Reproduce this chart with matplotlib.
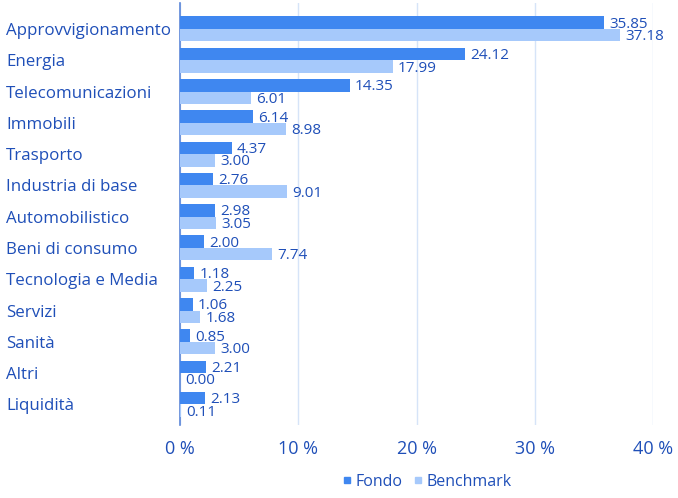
import numpy as np
import matplotlib.pyplot as plt

categories = ["Approvvigionamento", "Energia", "Telecomunicazioni", "Immobili", "Trasporto",
              "Industria di base", "Automobilistico", "Beni di consumo", "Tecnologia e Media",
              "Servizi", "Sanità", "Altri", "Liquidità"]
fondo = [35.85, 24.12, 14.35, 6.14, 4.37, 2.76, 2.98, 2.00, 1.18, 1.06, 0.85, 2.21, 2.13]
benchmark = [37.18, 17.99, 6.01, 8.98, 3.00, 9.01, 3.05, 7.74, 2.25, 1.68, 3.00, 0.00, 0.11]
xticks = [0, 10, 20, 30, 40]

plt.rcParams['font.family'] = ['Open Sans', 'DejaVu Sans']
txt = '#1f4fb8'
c_fondo = '#3f87f0'
c_bench = '#a6c9fb'

fig = plt.figure(figsize=(6.78, 4.98), dpi=100)
ax = fig.add_axes([180 / 678, 73 / 498, (653 - 180) / 678, 422 / 498])

y = np.arange(len(categories))
h = 0.4
ax.barh(y - h / 2, fondo, height=h, color=c_fondo, label='Fondo', zorder=3)
ax.barh(y + h / 2, benchmark, height=h, color=c_bench, label='Benchmark', zorder=3)

for i in range(len(categories)):
    ax.text(fondo[i] + 0.45, y[i] - h / 2 + 0.05, f"{fondo[i]:.2f}", va='center', ha='left',
            fontsize=11, color=txt, zorder=4)
    ax.text(benchmark[i] + 0.45, y[i] + h / 2 + 0.05, f"{benchmark[i]:.2f}", va='center', ha='left',
            fontsize=11, color=txt, zorder=4)

ax.set_ylim(12.66, -0.83)
ax.set_xlim(0, 40)
ax.set_yticks(y)
ax.set_yticklabels(categories, fontsize=12.2, color=txt)
for lab in ax.get_yticklabels():
    lab.set_horizontalalignment('left')
ax.tick_params(axis='y', length=0, pad=174 * 0.72)
ax.set_xticks(xticks)
ax.set_xticklabels([f"{t} %" for t in xticks], fontsize=13, color=txt)
ax.tick_params(axis='x', length=0, pad=11)

ax.grid(axis='x', color='#d6e4f8', linewidth=1, zorder=0)
for s in ['top', 'right', 'bottom']:
    ax.spines[s].set_visible(False)
ax.spines['left'].set_color('#5b86d8')
ax.spines['left'].set_linewidth(1.2)

handles = [plt.Line2D([], [], marker='s', linestyle='', color=c_fondo, markersize=4),
           plt.Line2D([], [], marker='s', linestyle='', color=c_bench, markersize=4)]
leg = fig.legend(handles, ['Fondo', 'Benchmark'], loc='center', bbox_to_anchor=(426 / 678, 1 - 482 / 498),
                 ncol=2, frameon=False, fontsize=11.5, handletextpad=0.1, columnspacing=0.6, handlelength=0.8)
for t in leg.get_texts():
    t.set_color(txt)

fig.savefig("out.png", dpi=100)
